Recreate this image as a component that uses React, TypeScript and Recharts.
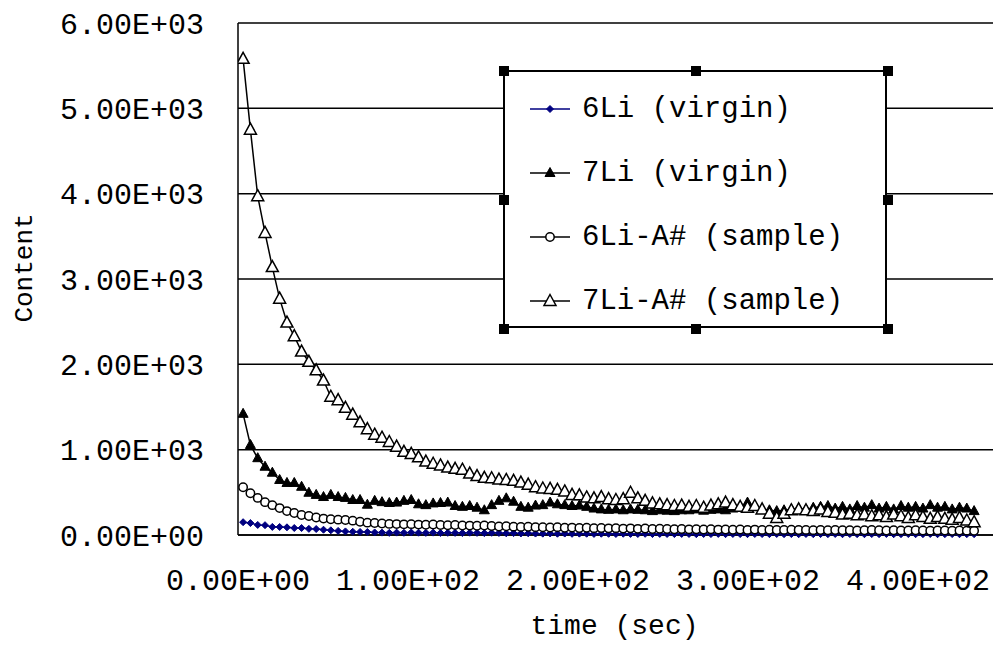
import React from 'react';
import { LineChart, Line, XAxis, YAxis, CartesianGrid, Legend, Label } from 'recharts';

const time = [
  3, 7.3, 11.6, 15.9, 20.2, 24.5, 28.8, 33.1, 37.4, 41.7,
  46, 50.3, 54.6, 58.9, 63.2, 67.5, 71.8, 76.1, 80.4, 84.7,
  89, 93.3, 97.6, 101.9, 106.2, 110.5, 114.8, 119.1, 123.4, 127.7,
  132, 136.3, 140.6, 144.9, 149.2, 153.5, 157.8, 162.1, 166.4, 170.7,
  175, 179.3, 183.6, 187.9, 192.2, 196.5, 200.8, 205.1, 209.4, 213.7,
  218, 222.3, 226.6, 230.9, 235.2, 239.5, 243.8, 248.1, 252.4, 256.7,
  261, 265.3, 269.6, 273.9, 278.2, 282.5, 286.8, 291.1, 295.4, 299.7,
  304, 308.3, 312.6, 316.9, 321.2, 325.5, 329.8, 334.1, 338.4, 342.7,
  347, 351.3, 355.6, 359.9, 364.2, 368.5, 372.8, 377.1, 381.4, 385.7,
  390, 394.3, 398.6, 402.9, 407.2, 411.5, 415.8, 420.1, 424.4, 428.7,
  433,
];

const li6Virgin = [
  150, 140, 118, 115, 95, 94, 90, 82, 82, 72,
  70, 62, 55, 48, 42, 38, 36, 35, 30, 28,
  25, 28, 26, 30, 27, 25, 28, 24, 26, 25,
  23, 27, 25, 22, 26, 24, 20, 22, 18, 20,
  17, 16, 18, 15, 17, 14, 16, 15, 13, 15,
  14, 12, 15, 13, 12, 14, 11, 13, 12, 11,
  13, 12, 10, 12, 11, 13, 10, 12, 11, 10,
  12, 11, 10, 12, 10, 11, 9, 12, 10, 11,
  10, 12, 9, 11, 10, 9, 11, 10, 12, 9,
  10, 11, 9, 10, 12, 9, 10, 11, 9, 10,
  10,
];

const li7Virgin = [
  1420, 1055, 900, 800, 730, 645, 610, 610, 565, 495,
  470, 445, 470, 445, 435, 410, 410, 355, 400, 385,
  375, 380, 400, 410, 360, 350, 370, 375, 380, 340,
  330, 340, 320, 290, 350, 400, 430, 390, 330, 320,
  345, 350, 380, 360, 350, 340, 345, 330, 310, 300,
  295, 300, 290, 300, 295, 290, 280, 290, 285, 280,
  290, 290, 300, 285, 295, 300, 290, 310, 320, 380,
  330, 300, 290, 280, 290, 300, 310, 300, 320, 330,
  340, 310, 330, 300, 340, 320, 350, 310, 330, 300,
  340, 320, 330, 310, 350, 320, 330, 300, 320, 310,
  280,
];

const li6Sample = [
  560, 490, 435, 385, 350, 315, 280, 258, 235, 222,
  205, 192, 185, 180, 175, 168, 155, 145, 140, 135,
  130, 128, 125, 127, 122, 120, 123, 118, 115, 117,
  112, 110, 108, 112, 105, 100, 103, 98, 95, 97,
  92, 90, 88, 92, 85, 87, 82, 85, 80, 82,
  78, 80, 75, 78, 72, 76, 70, 73, 70, 68,
  70, 66, 68, 65, 67, 63, 65, 62, 64, 60,
  63, 60, 62, 58, 60, 62, 58, 60, 57, 59,
  56, 58, 55, 57, 54, 56, 60, 55, 53, 56,
  54, 52, 55, 53, 51, 54, 52, 50, 53, 51,
  50,
];

const li7Sample = [
  5580, 4750, 3970, 3540, 3140, 2770, 2490, 2330, 2150, 2030,
  1930, 1810, 1620, 1580, 1490, 1410, 1320, 1240, 1175, 1140,
  1090, 1035, 975, 950, 910, 860, 835, 815, 790, 775,
  765, 720, 690, 670, 665, 650, 645, 635, 615, 590,
  560, 545, 540, 530, 510, 470, 465, 440, 430, 445,
  420, 410, 420, 495, 430, 400, 370, 360, 350, 340,
  345, 330, 340, 320, 345, 360, 380, 350, 330, 320,
  340, 300, 250, 200, 250, 290, 300, 290, 280, 300,
  270, 260, 240, 250, 230, 240, 220, 230, 210, 240,
  220, 200, 230, 210, 190, 210, 190, 180, 200, 170,
  150,
];

const xTicks = [0, 100, 200, 300, 400];
const yTicks = [0, 1000, 2000, 3000, 4000, 5000, 6000];
const seriesNames = ['6Li (virgin)', '7Li (virgin)', '6Li-A# (sample)', '7Li-A# (sample)'];
const xTitle = 'time (sec)';
const yTitle = 'Content';

const data = time.map((t, i) => ({
  t,
  a: li6Virgin[i],
  b: li7Virgin[i],
  c: li6Sample[i],
  d: li7Sample[i],
}));

const FONT = '"Liberation Mono", "DejaVu Sans Mono", monospace';
const NAVY = '#000080';

function sci(v: number): string {
  const [m, e] = Number(v).toExponential(2).split('e');
  const sign = e[0] === '-' ? '-' : '+';
  const digits = e.replace(/^[+-]/, '').padStart(2, '0');
  return `${m}E${sign}${digits}`;
}

type MP = { cx: number; cy: number };

const SmallDiamond = ({ cx, cy }: MP) => (
  <polygon
    points={`${cx},${cy - 3.5} ${cx + 3.5},${cy} ${cx},${cy + 3.5} ${cx - 3.5},${cy}`}
    fill={NAVY}
    stroke={NAVY}
    strokeWidth={1}
  />
);
const FilledTri = ({ cx, cy }: MP) => (
  <polygon
    points={`${cx},${cy - 5.5} ${cx + 5},${cy + 3.5} ${cx - 5},${cy + 3.5}`}
    fill="#000"
    stroke="#000"
    strokeWidth={1}
  />
);
const OpenCircle = ({ cx, cy }: MP) => (
  <circle cx={cx} cy={cy} r={4.2} fill="#fff" stroke="#000" strokeWidth={1.5} />
);
const OpenTri = ({ cx, cy }: MP) => (
  <polygon
    points={`${cx},${cy - 6.5} ${cx + 6},${cy + 4.5} ${cx - 6},${cy + 4.5}`}
    fill="#fff"
    stroke="#000"
    strokeWidth={1.5}
  />
);

const markers = [SmallDiamond, FilledTri, OpenCircle, OpenTri];
const lineColors = [NAVY, '#000', '#000', '#000'];

function makeDot(Shape: (p: MP) => JSX.Element, name: string) {
  return (props: any) => {
    const { cx, cy, index } = props;
    if (cx == null || cy == null) return <g key={`${name}-${index}`} />;
    return (
      <g key={`${name}-${index}`}>
        <Shape cx={cx} cy={cy} />
      </g>
    );
  };
}

const handle = (left: number, top: number, k: string) => (
  <div
    key={k}
    style={{
      position: 'absolute',
      left: left - 5,
      top: top - 5,
      width: 10,
      height: 10,
      background: '#000',
    }}
  />
);

const renderLegend = () => {
  const W = 384;
  const H = 258;
  return (
    <div
      style={{
        position: 'relative',
        width: W,
        height: H,
        boxSizing: 'border-box',
        border: '2px solid #000',
        background: '#fff',
        fontFamily: FONT,
        fontSize: 29,
        color: '#000',
      }}
    >
      {seriesNames.map((name, i) => {
        const Shape = markers[i];
        return (
          <div
            key={name}
            style={{
              position: 'absolute',
              left: 25,
              top: 5 + i * 64,
              height: 64,
              display: 'flex',
              alignItems: 'center',
              whiteSpace: 'nowrap',
            }}
          >
            <svg width={40} height={20} style={{ display: 'block' }}>
              <line x1={0} x2={40} y1={10} y2={10} stroke={lineColors[i]} strokeWidth={1.5} />
              <Shape cx={20} cy={10} />
            </svg>
            <span style={{ marginLeft: 12 }}>{name}</span>
          </div>
        );
      })}
      {handle(-1, -1, 'h1')}
      {handle(W / 2 - 1, -1, 'h2')}
      {handle(W - 1, -1, 'h3')}
      {handle(-1, H / 2 - 1, 'h4')}
      {handle(W - 1, H / 2 - 1, 'h5')}
      {handle(-1, H - 1, 'h6')}
      {handle(W / 2 - 1, H - 1, 'h7')}
      {handle(W - 1, H - 1, 'h8')}
    </div>
  );
};

export default function App() {
  return (
    <div
      style={{
        position: 'absolute',
        left: 0,
        top: 0,
        width: 993,
        height: 646,
        overflow: 'hidden',
        background: '#fff',
      }}
    >
      <LineChart
        width={1010}
        height={646}
        data={data}
        margin={{ top: 23, right: 7, left: 0, bottom: 0 }}
      >
        <CartesianGrid horizontal vertical={false} stroke="#000" strokeWidth={1.5} />
        <XAxis
          type="number"
          dataKey="t"
          domain={[0, 450]}
          ticks={xTicks}
          interval={0}
          tickFormatter={sci}
          tickLine={false}
          axisLine={{ stroke: '#000', strokeWidth: 1.5 }}
          tick={{ fill: '#000', fontSize: 30, fontFamily: FONT }}
          tickMargin={28}
          height={111}
          allowDataOverflow
        >
          <Label
            content={(p: any) => {
              const vb = p.viewBox || { x: 238, y: 535, width: 765, height: 111 };
              return (
                <text
                  x={vb.x + vb.width / 2 - 6}
                  y={634}
                  textAnchor="middle"
                  fontFamily={FONT}
                  fontSize={28}
                  fill="#000"
                >
                  {xTitle}
                </text>
              );
            }}
          />
        </XAxis>
        <YAxis
          type="number"
          domain={[0, 6000]}
          ticks={yTicks}
          interval={0}
          tickFormatter={sci}
          tickLine={false}
          axisLine={{ stroke: '#000', strokeWidth: 1.5 }}
          tick={{ fill: '#000', fontSize: 30, fontFamily: FONT }}
          tickMargin={28}
          width={238}
        >
          <Label
            content={() => (
              <text
                x={32}
                y={268}
                textAnchor="middle"
                fontFamily={FONT}
                fontSize={26}
                fill="#000"
                transform="rotate(-90 32 268)"
              >
                {yTitle}
              </text>
            )}
          />
        </YAxis>
        <Legend
          layout="vertical"
          align="center"
          verticalAlign="middle"
          content={renderLegend}
          wrapperStyle={{ position: 'absolute', left: 503, top: 70, width: 384, height: 258 }}
        />
        <Line
          dataKey="a"
          name={seriesNames[0]}
          stroke={NAVY}
          strokeWidth={1.5}
          dot={makeDot(SmallDiamond, 'a')}
          activeDot={false}
          isAnimationActive={false}
        />
        <Line
          dataKey="b"
          name={seriesNames[1]}
          stroke="#000"
          strokeWidth={1.5}
          dot={makeDot(FilledTri, 'b')}
          activeDot={false}
          isAnimationActive={false}
        />
        <Line
          dataKey="c"
          name={seriesNames[2]}
          stroke="#000"
          strokeWidth={1.5}
          dot={makeDot(OpenCircle, 'c')}
          activeDot={false}
          isAnimationActive={false}
        />
        <Line
          dataKey="d"
          name={seriesNames[3]}
          stroke="#000"
          strokeWidth={1.5}
          dot={makeDot(OpenTri, 'd')}
          activeDot={false}
          isAnimationActive={false}
        />
      </LineChart>
    </div>
  );
}
